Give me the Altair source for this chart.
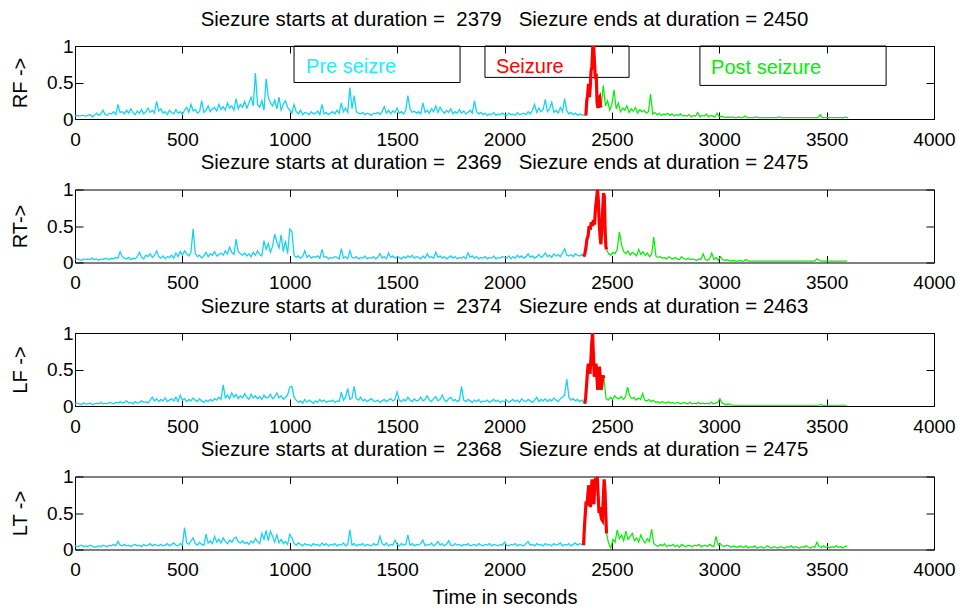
import altair as alt
import pandas as pd

FONT = "Liberation Sans"
CYAN_LINE = "#18D2F4"
CYAN_TEXT = "#1EEBFF"
RED = "#FF0000"
GREEN = "#00F000"

X_TICKS = [0, 500, 1000, 1500, 2000, 2500, 3000, 3500, 4000]
Y_TICKS = [0, 0.5, 1]
STEP = 10          # sampling step (s) of the read-off series
END_TIME = 3600

CHANNELS = ["RF ->", "RT->", "LF ->", "LT ->"]
STARTS = [2379, 2369, 2374, 2368]
ENDS = [2450, 2475, 2463, 2475]

# ---------------- RF ----------------
RF_PRE = [
    0.04, 0.05, 0.04, 0.05, 0.05, 0.04, 0.05, 0.06, 0.03, 0.05, 0.08, 0.05, 0.07, 0.12, 0.06, 0.05, 0.08, 0.07, 0.10, 0.06,
    0.20, 0.09, 0.10, 0.07, 0.12, 0.08, 0.14, 0.09, 0.06, 0.11, 0.08, 0.13, 0.07, 0.10, 0.15, 0.09, 0.12, 0.08, 0.24, 0.11,
    0.14, 0.08, 0.10, 0.06, 0.12, 0.09, 0.07, 0.13, 0.08, 0.10, 0.06, 0.12, 0.16, 0.09, 0.20, 0.11, 0.13, 0.08, 0.10, 0.25,
    0.09, 0.12, 0.18, 0.10, 0.14, 0.16, 0.11, 0.20, 0.13, 0.17, 0.12, 0.22, 0.15, 0.18, 0.12, 0.28, 0.14, 0.20, 0.16, 0.24,
    0.15, 0.22, 0.30, 0.18, 0.63, 0.20, 0.16, 0.25, 0.12, 0.55, 0.30, 0.22, 0.18, 0.26, 0.14, 0.30, 0.12, 0.20, 0.25, 0.16,
    0.12, 0.08, 0.20, 0.10, 0.07, 0.12, 0.06, 0.09, 0.08, 0.06, 0.10, 0.07, 0.08, 0.11, 0.06, 0.20, 0.07, 0.09, 0.06, 0.08,
    0.10, 0.07, 0.12, 0.08, 0.22, 0.10, 0.15, 0.09, 0.43, 0.14, 0.32, 0.10, 0.08, 0.07, 0.09, 0.06, 0.08, 0.07, 0.05, 0.08,
    0.07, 0.09, 0.06, 0.10, 0.17, 0.08, 0.12, 0.07, 0.11, 0.09, 0.15, 0.08, 0.10, 0.07, 0.12, 0.32, 0.14, 0.09, 0.11, 0.08,
    0.10, 0.07, 0.22, 0.09, 0.12, 0.08, 0.14, 0.10, 0.18, 0.09, 0.16, 0.11, 0.08, 0.12, 0.09, 0.14, 0.07, 0.10, 0.08, 0.13,
    0.08, 0.11, 0.07, 0.09, 0.12, 0.08, 0.25, 0.10, 0.07, 0.09, 0.06, 0.08, 0.05, 0.07, 0.06, 0.09, 0.05, 0.07, 0.06, 0.08,
    0.06, 0.05, 0.08, 0.06, 0.07, 0.05, 0.09, 0.06, 0.07, 0.08, 0.06, 0.10, 0.07, 0.12, 0.20, 0.09, 0.15, 0.10, 0.13, 0.27,
    0.10, 0.14, 0.23, 0.09, 0.12, 0.08, 0.16, 0.10, 0.28, 0.11, 0.07, 0.09, 0.06, 0.08, 0.05, 0.07, 0.06, 0.05,
]
RF_SZ_T = [2379, 2383, 2387, 2391, 2395, 2399, 2403, 2407, 2411, 2415, 2419, 2423, 2427, 2431, 2435, 2439, 2443, 2447, 2450]
RF_SZ_V = [0.05, 0.25, 0.32, 0.48, 0.30, 0.42, 0.66, 0.72, 0.98, 1.00, 0.78, 0.55, 0.62, 0.22, 0.15, 0.28, 0.30, 0.18, 0.16]
RF_POST = [
    0.16, 0.46, 0.18, 0.25, 0.12, 0.20, 0.40, 0.14, 0.22, 0.10, 0.15, 0.12, 0.18, 0.09, 0.14, 0.11, 0.16, 0.08, 0.13, 0.10,
    0.12, 0.08, 0.10, 0.34, 0.07, 0.09, 0.06, 0.08, 0.05, 0.07, 0.06, 0.08, 0.05, 0.07, 0.04, 0.06, 0.05, 0.07, 0.04, 0.05,
    0.04, 0.06, 0.03, 0.05, 0.04, 0.09, 0.03, 0.05, 0.04, 0.07, 0.03, 0.05, 0.04, 0.03, 0.08, 0.03, 0.04, 0.03, 0.02, 0.03,
    0.02, 0.03, 0.02, 0.02, 0.03, 0.02, 0.02, 0.04, 0.02, 0.02, 0.02, 0.02, 0.03, 0.02, 0.02, 0.02, 0.02, 0.02, 0.02, 0.02,
    0.02, 0.02, 0.02, 0.03, 0.02, 0.02, 0.02, 0.02, 0.02, 0.02, 0.02, 0.02, 0.02, 0.02, 0.02, 0.02, 0.02, 0.02, 0.02, 0.02,
    0.02, 0.02, 0.06, 0.02, 0.02, 0.02, 0.02, 0.02, 0.02, 0.02, 0.02, 0.02, 0.02, 0.02, 0.03, 0.01,
]

# ---------------- RT ----------------
RT_PRE = [
    0.04, 0.05, 0.04, 0.03, 0.05, 0.04, 0.05, 0.04, 0.06, 0.04, 0.05, 0.03, 0.05, 0.04, 0.06, 0.05, 0.04, 0.06, 0.05, 0.07,
    0.06, 0.15, 0.08, 0.06, 0.05, 0.07, 0.04, 0.06, 0.05, 0.08, 0.14, 0.07, 0.05, 0.10, 0.08, 0.12, 0.07, 0.10, 0.16, 0.08,
    0.06, 0.09, 0.05, 0.08, 0.07, 0.10, 0.06, 0.13, 0.08, 0.15, 0.10, 0.16, 0.12, 0.09, 0.14, 0.46, 0.12, 0.08, 0.10, 0.06,
    0.09, 0.14, 0.08, 0.12, 0.10, 0.15, 0.09, 0.11, 0.13, 0.10, 0.16, 0.12, 0.21, 0.14, 0.11, 0.32, 0.15, 0.12, 0.10, 0.13,
    0.09, 0.12, 0.08, 0.14, 0.10, 0.16, 0.11, 0.09, 0.30, 0.18, 0.26, 0.14, 0.22, 0.39, 0.28, 0.20, 0.38, 0.15, 0.30, 0.12,
    0.46, 0.42, 0.10, 0.07, 0.09, 0.06, 0.08, 0.16, 0.07, 0.10, 0.06, 0.08, 0.07, 0.09, 0.06, 0.18, 0.07, 0.08, 0.05, 0.07,
    0.06, 0.08, 0.07, 0.05, 0.19, 0.06, 0.08, 0.05, 0.16, 0.07, 0.06, 0.08, 0.05, 0.07, 0.06, 0.09, 0.05, 0.07, 0.06, 0.08,
    0.05, 0.07, 0.12, 0.06, 0.08, 0.05, 0.13, 0.07, 0.09, 0.06, 0.08, 0.07, 0.05, 0.08, 0.06, 0.09, 0.07, 0.10, 0.06, 0.08,
    0.07, 0.05, 0.09, 0.06, 0.12, 0.07, 0.08, 0.06, 0.14, 0.07, 0.09, 0.06, 0.08, 0.05, 0.07, 0.09, 0.06, 0.08, 0.05, 0.07,
    0.06, 0.08, 0.05, 0.13, 0.07, 0.09, 0.06, 0.08, 0.05, 0.07, 0.06, 0.08, 0.05, 0.07, 0.06, 0.09, 0.05, 0.07, 0.06, 0.08,
    0.07, 0.06, 0.09, 0.05, 0.08, 0.06, 0.10, 0.07, 0.09, 0.06, 0.08, 0.12, 0.07, 0.09, 0.06, 0.08, 0.11, 0.07, 0.09, 0.13,
    0.08, 0.10, 0.07, 0.12, 0.09, 0.11, 0.08, 0.13, 0.19, 0.10, 0.09, 0.11, 0.08, 0.12, 0.10, 0.09, 0.11,
]
RT_SZ_T = [2369, 2374, 2379, 2384, 2389, 2394, 2399, 2404, 2409, 2414, 2419, 2424, 2429, 2433, 2437, 2441, 2445, 2449,
           2453, 2457, 2461, 2465, 2469, 2472, 2475]
RT_SZ_V = [0.08, 0.12, 0.20, 0.32, 0.36, 0.50, 0.45, 0.55, 0.50, 0.58, 0.52, 0.75, 0.88, 1.00, 0.85, 0.55, 0.35, 0.25,
           0.45, 0.70, 0.95, 0.90, 0.40, 0.22, 0.18]
RT_POST = [
    0.18, 0.12, 0.10, 0.14, 0.12, 0.18, 0.42, 0.24, 0.15, 0.12, 0.16, 0.10, 0.14, 0.12, 0.09, 0.18, 0.11, 0.15, 0.10, 0.13,
    0.08, 0.11, 0.35, 0.09, 0.07, 0.08, 0.06, 0.07, 0.05, 0.08, 0.06, 0.05, 0.07, 0.05, 0.04, 0.08, 0.05, 0.04, 0.06, 0.04,
    0.05, 0.04, 0.03, 0.05, 0.04, 0.12, 0.04, 0.03, 0.05, 0.13, 0.04, 0.07, 0.03, 0.08, 0.04, 0.03, 0.04, 0.03, 0.02, 0.03,
    0.02, 0.02, 0.03, 0.02, 0.02, 0.04, 0.02, 0.02, 0.02, 0.02, 0.02, 0.02, 0.02, 0.02, 0.02, 0.02, 0.02, 0.02, 0.02, 0.02,
    0.02, 0.02, 0.02, 0.02, 0.02, 0.02, 0.02, 0.02, 0.02, 0.02, 0.02, 0.02, 0.02, 0.02, 0.02, 0.02, 0.02, 0.02, 0.05, 0.03,
    0.02, 0.02, 0.02, 0.02, 0.02, 0.02, 0.02, 0.02, 0.02, 0.02, 0.02, 0.02, 0.02,
]

# ---------------- LF ----------------
LF_PRE = [
    0.03, 0.04, 0.03, 0.02, 0.04, 0.03, 0.03, 0.04, 0.02, 0.03, 0.04, 0.03, 0.05, 0.03, 0.04, 0.03, 0.05, 0.04, 0.03, 0.05,
    0.04, 0.06, 0.04, 0.05, 0.07, 0.04, 0.05, 0.03, 0.06, 0.04, 0.05, 0.07, 0.05, 0.06, 0.04, 0.08, 0.12, 0.07, 0.10, 0.06,
    0.09, 0.07, 0.11, 0.06, 0.08, 0.10, 0.07, 0.12, 0.06, 0.15, 0.08, 0.10, 0.06, 0.09, 0.07, 0.11, 0.08, 0.06, 0.10, 0.07,
    0.05, 0.08, 0.06, 0.09, 0.07, 0.10, 0.08, 0.12, 0.09, 0.29, 0.11, 0.15, 0.10, 0.18, 0.12, 0.16, 0.10, 0.14, 0.11, 0.17,
    0.12, 0.09, 0.16, 0.11, 0.14, 0.10, 0.13, 0.09, 0.15, 0.11, 0.12, 0.16, 0.10, 0.13, 0.18, 0.11, 0.14, 0.09, 0.12, 0.15,
    0.26, 0.27, 0.12, 0.08, 0.05, 0.07, 0.04, 0.09, 0.05, 0.08, 0.06, 0.04, 0.07, 0.05, 0.09, 0.06, 0.08, 0.05, 0.07, 0.06,
    0.08, 0.05, 0.07, 0.06, 0.19, 0.08, 0.12, 0.24, 0.09, 0.11, 0.27, 0.10, 0.08, 0.12, 0.07, 0.09, 0.06, 0.08, 0.10, 0.07,
    0.06, 0.08, 0.05, 0.07, 0.09, 0.06, 0.08, 0.10, 0.07, 0.09, 0.19, 0.08, 0.06, 0.09, 0.07, 0.12, 0.08, 0.06, 0.10, 0.07,
    0.08, 0.12, 0.07, 0.09, 0.14, 0.08, 0.06, 0.10, 0.13, 0.07, 0.09, 0.15, 0.08, 0.06, 0.10, 0.12, 0.07, 0.09, 0.06, 0.08,
    0.27, 0.08, 0.06, 0.09, 0.07, 0.05, 0.08, 0.06, 0.09, 0.05, 0.07, 0.06, 0.08, 0.05, 0.07, 0.09, 0.06, 0.08, 0.05, 0.07,
    0.06, 0.08, 0.05, 0.07, 0.09, 0.06, 0.08, 0.05, 0.10, 0.07, 0.06, 0.09, 0.07, 0.05, 0.08, 0.12, 0.06, 0.09, 0.07, 0.10,
    0.06, 0.09, 0.07, 0.11, 0.08, 0.06, 0.10, 0.12, 0.15, 0.37, 0.12, 0.08, 0.10, 0.07, 0.09, 0.06, 0.08, 0.05,
]
LF_SZ_T = [2374, 2378, 2382, 2386, 2390, 2394, 2398, 2402, 2406, 2410, 2414, 2418, 2422, 2426, 2430, 2434, 2438, 2442,
           2446, 2450, 2454, 2458, 2463]
LF_SZ_V = [0.03, 0.12, 0.28, 0.45, 0.58, 0.52, 0.44, 0.62, 0.85, 1.00, 0.70, 0.40, 0.48, 0.58, 0.42, 0.22, 0.35, 0.54,
           0.40, 0.22, 0.30, 0.42, 0.38]
LF_POST = [
    0.38, 0.10, 0.08, 0.12, 0.09, 0.14, 0.11, 0.10, 0.13, 0.09, 0.12, 0.26, 0.14, 0.10, 0.12, 0.08, 0.11, 0.09, 0.17, 0.08,
    0.07, 0.09, 0.06, 0.08, 0.05, 0.06, 0.04, 0.06, 0.05, 0.04, 0.06, 0.04, 0.05, 0.03, 0.05, 0.04, 0.03, 0.05, 0.04, 0.03,
    0.05, 0.03, 0.04, 0.03, 0.05, 0.03, 0.04, 0.03, 0.04, 0.03, 0.05, 0.03, 0.04, 0.05, 0.10, 0.04, 0.03, 0.02, 0.03, 0.02,
    0.01, 0.01, 0.01, 0.01, 0.01, 0.01, 0.01, 0.01, 0.01, 0.01, 0.01, 0.01, 0.01, 0.01, 0.01, 0.01, 0.01, 0.01, 0.01, 0.01,
    0.01, 0.01, 0.01, 0.01, 0.01, 0.01, 0.01, 0.01, 0.01, 0.01, 0.01, 0.01, 0.01, 0.01, 0.01, 0.01, 0.01, 0.01, 0.01, 0.01,
    0.01, 0.02, 0.01, 0.01, 0.01, 0.01, 0.01, 0.01, 0.01, 0.01, 0.01, 0.01, 0.01, 0.01,
]

# ---------------- LT ----------------
LT_PRE = [
    0.05, 0.04, 0.05, 0.06, 0.04, 0.05, 0.04, 0.06, 0.05, 0.03, 0.04, 0.05, 0.04, 0.06, 0.05, 0.04, 0.06, 0.05, 0.07, 0.05,
    0.11, 0.06, 0.05, 0.07, 0.05, 0.06, 0.04, 0.06, 0.07, 0.05, 0.06, 0.04, 0.07, 0.05, 0.06, 0.08, 0.05, 0.07, 0.06, 0.05,
    0.07, 0.05, 0.06, 0.08, 0.05, 0.07, 0.09, 0.06, 0.05, 0.08, 0.06, 0.30, 0.09, 0.07, 0.12, 0.16, 0.08, 0.06, 0.10, 0.07,
    0.06, 0.21, 0.09, 0.12, 0.08, 0.18, 0.10, 0.14, 0.09, 0.16, 0.11, 0.08, 0.13, 0.10, 0.15, 0.17, 0.11, 0.09, 0.12, 0.08,
    0.10, 0.07, 0.12, 0.09, 0.15, 0.11, 0.08, 0.22, 0.14, 0.26, 0.12, 0.25, 0.18, 0.10, 0.20, 0.09, 0.14, 0.08, 0.11, 0.07,
    0.21, 0.16, 0.08, 0.06, 0.09, 0.07, 0.05, 0.08, 0.06, 0.07, 0.05, 0.08, 0.06, 0.07, 0.05, 0.09, 0.06, 0.08, 0.05, 0.07,
    0.06, 0.08, 0.05, 0.07, 0.06, 0.09, 0.05, 0.07, 0.27, 0.06, 0.08, 0.05, 0.07, 0.06, 0.08, 0.05, 0.07, 0.06, 0.05, 0.08,
    0.06, 0.07, 0.18, 0.08, 0.06, 0.09, 0.05, 0.07, 0.06, 0.13, 0.07, 0.05, 0.08, 0.06, 0.07, 0.20, 0.06, 0.08, 0.05, 0.07,
    0.06, 0.08, 0.13, 0.05, 0.07, 0.06, 0.09, 0.05, 0.07, 0.11, 0.06, 0.08, 0.05, 0.07, 0.12, 0.06, 0.05, 0.08, 0.06, 0.07,
    0.05, 0.07, 0.06, 0.08, 0.05, 0.06, 0.07, 0.05, 0.08, 0.06, 0.05, 0.07, 0.06, 0.08, 0.05, 0.07, 0.06, 0.05, 0.07, 0.06,
    0.10, 0.06, 0.05, 0.07, 0.06, 0.08, 0.05, 0.07, 0.06, 0.05, 0.08, 0.11, 0.06, 0.07, 0.05, 0.08, 0.06, 0.07, 0.05, 0.08,
    0.06, 0.07, 0.05, 0.08, 0.06, 0.07, 0.09, 0.05, 0.07, 0.06, 0.08, 0.05, 0.07, 0.09, 0.06, 0.08, 0.07,
]
LT_SZ_T = [2368, 2372, 2376, 2380, 2384, 2388, 2392, 2396, 2400, 2404, 2408, 2412, 2416, 2420, 2424, 2428, 2432, 2436,
           2440, 2444, 2448, 2452, 2456, 2460, 2464, 2468, 2472, 2475]
LT_SZ_V = [0.06, 0.30, 0.48, 0.66, 0.60, 0.75, 0.88, 0.70, 0.58, 0.80, 0.96, 0.72, 0.62, 0.85, 0.98, 0.90, 1.00, 0.75,
           0.50, 0.58, 0.48, 0.42, 0.40, 0.70, 0.96, 0.80, 0.45, 0.22]
LT_POST = [
    0.22, 0.08, 0.02, 0.14, 0.10, 0.27, 0.15, 0.20, 0.12, 0.25, 0.14, 0.18, 0.22, 0.12, 0.16, 0.10, 0.20, 0.13, 0.09, 0.15,
    0.11, 0.28, 0.08, 0.06, 0.04, 0.07, 0.05, 0.08, 0.04, 0.06, 0.05, 0.07, 0.04, 0.06, 0.03, 0.07, 0.05, 0.04, 0.06, 0.05,
    0.04, 0.06, 0.05, 0.07, 0.04, 0.05, 0.06, 0.04, 0.07, 0.05, 0.04, 0.18, 0.06, 0.08, 0.05, 0.04, 0.06, 0.05, 0.03, 0.05,
    0.04, 0.03, 0.05, 0.04, 0.03, 0.05, 0.02, 0.04, 0.03, 0.05, 0.02, 0.03, 0.04, 0.02, 0.03, 0.05, 0.03, 0.02, 0.04, 0.03,
    0.02, 0.04, 0.03, 0.02, 0.04, 0.03, 0.05, 0.02, 0.04, 0.03, 0.02, 0.04, 0.03, 0.05, 0.03, 0.02, 0.04, 0.03, 0.10, 0.04,
    0.03, 0.05, 0.03, 0.04, 0.02, 0.04, 0.03, 0.05, 0.03, 0.04, 0.02, 0.04, 0.05,
]

PRE = [RF_PRE, RT_PRE, LF_PRE, LT_PRE]
SZ_T = [RF_SZ_T, RT_SZ_T, LF_SZ_T, LT_SZ_T]
SZ_V = [RF_SZ_V, RT_SZ_V, LF_SZ_V, LT_SZ_V]
POST = [RF_POST, RT_POST, LF_POST, LT_POST]

# legend boxes of the first panel (data units)
LEGEND_LABELS = ["Pre seizre", "Seizure", "Post seizure"]
LEGEND_COLORS = [CYAN_TEXT, RED, GREEN]
LEGEND_X1 = [1020, 1909, 2910]
LEGEND_X2 = [1793, 2580, 3777]
LEGEND_Y1 = [0.50, 0.57, 0.46]
LEGEND_TEXT_X = [1076, 1960, 2962]
LEGEND_TEXT_Y = [0.715, 0.715, 0.70]

W, H = 859, 73
XS = alt.Scale(domain=[0, 4000], nice=False, zero=False)
YS = alt.Scale(domain=[0, 1], nice=False, zero=False)


def seg_frame(ts, vs):
    return pd.DataFrame({"t": list(ts), "v": list(vs)})


def make_panel(i, last):
    start, end = STARTS[i], ENDS[i]
    pre_t = list(range(0, start, STEP))
    n = min(len(pre_t), len(PRE[i]))
    pre_df = seg_frame(pre_t[:n] + [SZ_T[i][0]], PRE[i][:n] + [SZ_V[i][0]])
    post_t = list(range(end, END_TIME + 1, STEP))
    m = min(len(post_t), len(POST[i]))
    post_df = seg_frame(post_t[:m], POST[i][:m])
    sz_df = seg_frame(SZ_T[i], SZ_V[i])

    xaxis_kw = dict(orient="bottom", values=X_TICKS, format="d", labelFontSize=19, labelPadding=11,
                    tickSize=7, offset=-7, domain=False, grid=False, labelFlush=False)
    if last:
        xaxis_kw.update(title="Time in seconds", titleFontSize=20, titlePadding=8)
    else:
        xaxis_kw.update(title=None)
    yaxis = alt.Axis(orient="left", values=Y_TICKS, labelExpr="datum.value", labelFontSize=19, labelPadding=2,
                     tickSize=8, offset=-8, domain=False, grid=False, title=CHANNELS[i], titleFontSize=20,
                     titlePadding=16, labelFlush=False)

    pre = alt.Chart(pre_df).mark_line(color=CYAN_LINE, strokeWidth=1.3, clip=True).encode(
        x=alt.X("t:Q", scale=XS, axis=alt.Axis(**xaxis_kw)),
        y=alt.Y("v:Q", scale=YS, axis=yaxis),
    )
    post = alt.Chart(post_df).mark_line(color=GREEN, strokeWidth=1.2, clip=True).encode(
        x=alt.X("t:Q", scale=XS, axis=None),
        y=alt.Y("v:Q", scale=YS, axis=None),
    )
    sz = alt.Chart(sz_df).mark_line(color=RED, strokeWidth=3.2, clip=True).encode(
        x=alt.X("t:Q", scale=XS, axis=None),
        y=alt.Y("v:Q", scale=YS, axis=None),
    )
    frame_axes = alt.Chart(pre_df).mark_point(opacity=0).encode(
        x=alt.X("t:Q", scale=XS, axis=alt.Axis(orient="top", values=X_TICKS, labels=False, tickSize=7,
                                                offset=-7, domain=False, grid=False, title=None)),
        y=alt.Y("v:Q", scale=YS, axis=alt.Axis(orient="right", values=Y_TICKS, labels=False, tickSize=8,
                                                offset=-8, domain=False, grid=False, title=None)),
    )
    layers = [pre, post, sz]
    if i == 0:
        leg = pd.DataFrame({"label": LEGEND_LABELS, "x1": LEGEND_X1, "x2": LEGEND_X2, "y1": LEGEND_Y1,
                            "y2": [1.0] * 3, "tx": LEGEND_TEXT_X, "ty": LEGEND_TEXT_Y})
        boxes = alt.Chart(leg).mark_rect(fill="white", fillOpacity=0, stroke="black", strokeWidth=1).encode(
            x=alt.X("x1:Q", scale=XS, axis=None), x2="x2:Q",
            y=alt.Y("y1:Q", scale=YS, axis=None), y2="y2:Q",
        )
        texts = alt.Chart(leg).mark_text(align="left", baseline="middle", fontSize=20, font=FONT).encode(
            x=alt.X("tx:Q", scale=XS, axis=None),
            y=alt.Y("ty:Q", scale=YS, axis=None),
            text="label:N",
            color=alt.Color("label:N", scale=alt.Scale(domain=LEGEND_LABELS, range=LEGEND_COLORS), legend=None),
        )
        layers = [boxes, pre, post, sz, texts]
    layers.append(frame_axes)
    title = ("Siezure starts at duration =\u00a0 " + str(start) + " \u00a0 Siezure ends at duration = " + str(end))
    return alt.layer(*layers).properties(
        width=W, height=H,
        title=alt.TitleParams(text=title, fontSize=20.4, font=FONT, fontWeight="normal", color="black",
                              anchor="middle", frame="group", baseline="alphabetic", offset=-9),
    )


panels = [make_panel(i, i == 3) for i in range(4)]

chart = alt.vconcat(*panels, spacing=70.5, bounds="flush").properties(
    padding={"left": 10, "top": 9, "right": 2, "bottom": 2}
).configure(font=FONT).configure_axis(
    labelFont=FONT, titleFont=FONT, labelColor="black", titleColor="black", tickColor="black",
    titleFontWeight="normal", tickWidth=1,
).configure_view(stroke="black", strokeWidth=1).configure_title(font=FONT)

chart.save("out.html", embed_options={"renderer": "svg", "actions": False})
